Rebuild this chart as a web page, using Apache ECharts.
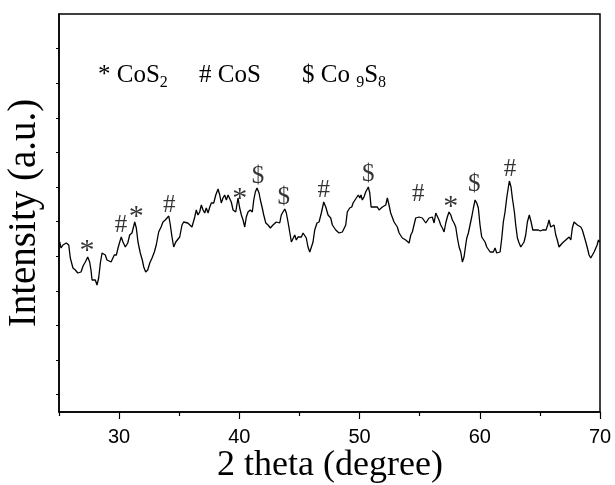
<!DOCTYPE html>
<html><head><meta charset="utf-8">
<script src="https://cdn.jsdelivr.net/npm/echarts@6/dist/echarts.min.js"></script>
<style>html,body{margin:0;padding:0;background:#fff}#c{width:615px;height:485px}</style>
</head><body><div id="c"></div>
<script>
const theta = [25.06,25.17,25.33,25.44,25.61,25.81,25.94,26.16,26.36,26.56,26.72,26.83,27.00,27.19,27.39,27.55,27.66,27.75,27.89,28.02,28.16,28.30,28.44,28.58,28.72,28.85,28.99,29.13,29.33,29.49,29.60,29.77,29.91,30.05,30.18,30.32,30.52,30.72,30.88,31.07,31.30,31.43,31.57,31.76,31.93,32.05,32.21,32.38,32.55,32.74,32.93,33.09,33.29,33.49,33.65,33.84,33.98,34.13,34.26,34.40,34.54,34.71,34.87,35.04,35.23,35.37,35.51,35.71,35.87,36.06,36.29,36.42,36.56,36.70,36.84,36.98,37.12,37.25,37.40,37.54,37.67,37.87,38.04,38.23,38.37,38.50,38.64,38.78,38.92,39.06,39.20,39.33,39.48,39.70,39.89,40.03,40.17,40.31,40.45,40.58,40.72,40.91,41.08,41.20,41.33,41.47,41.64,41.75,41.89,42.03,42.20,42.39,42.58,42.80,42.94,43.08,43.22,43.36,43.49,43.63,43.78,43.91,44.05,44.19,44.33,44.47,44.61,44.74,44.88,45.02,45.16,45.30,45.44,45.57,45.71,45.86,45.99,46.13,46.27,46.46,46.63,46.82,47.02,47.19,47.38,47.52,47.60,47.74,47.88,48.02,48.15,48.29,48.43,48.57,48.71,48.85,48.98,49.18,49.35,49.46,49.62,49.73,49.90,50.02,50.12,50.23,50.37,50.51,50.65,50.73,50.85,50.96,51.06,51.20,51.35,51.48,51.62,51.76,51.90,52.04,52.18,52.31,52.45,52.59,52.73,52.87,53.01,53.14,53.29,53.43,53.56,53.70,53.84,53.98,54.12,54.26,54.39,54.53,54.67,54.81,54.95,55.09,55.22,55.36,55.51,55.64,55.78,55.92,56.05,56.20,56.34,56.47,56.61,56.75,56.89,57.03,57.17,57.30,57.44,57.59,57.72,57.86,58.00,58.14,58.28,58.42,58.55,58.69,58.83,58.92,59.05,59.19,59.33,59.47,59.61,59.75,59.88,60.02,60.16,60.30,60.44,60.58,60.71,60.86,61.00,61.13,61.27,61.41,61.55,61.69,61.83,61.96,62.10,62.24,62.38,62.46,62.60,62.71,62.88,62.99,63.13,63.27,63.41,63.54,63.68,63.82,63.96,64.12,64.27,64.41,64.54,64.68,64.87,65.04,65.21,65.37,65.51,65.65,65.76,65.90,66.04,66.18,66.32,66.45,66.59,66.73,66.87,67.01,67.15,67.29,67.43,67.57,67.70,67.84,67.98,68.12,68.26,68.40,68.53,68.67,68.82,68.95,69.09,69.23,69.36,69.51,69.65,69.76,69.87,69.96];
const intensity = [170,164,167,165,169,167,154,144,142,139,141,140,146,150,155,150,142,132,134,132,127,134,149,159,160,157,152,152,150,149,157,157,164,170,175,170,165,169,177,179,190,184,170,159,152,145,140,142,149,154,160,167,180,185,190,192,191,196,187,175,165,170,172,175,187,190,192,189,190,185,195,202,197,200,207,202,199,204,199,205,209,209,217,223,217,209,214,217,212,217,219,210,202,200,214,204,197,192,185,195,200,202,200,212,220,224,219,212,205,197,189,187,184,187,185,190,192,189,197,200,203,199,190,180,170,172,177,172,175,177,175,179,179,174,165,160,159,170,182,189,190,199,210,205,197,199,194,187,189,182,180,179,177,180,179,187,200,204,205,209,209,214,217,214,217,212,215,220,220,225,219,205,207,205,204,205,202,202,205,204,207,214,207,199,197,190,190,185,179,177,174,172,172,170,169,177,180,187,194,195,195,195,194,195,189,187,194,192,195,189,199,200,192,187,184,180,189,195,200,197,192,189,185,174,165,160,150,155,167,174,179,187,195,204,212,209,204,187,175,174,170,165,167,160,162,160,164,159,159,160,174,190,200,214,225,231,225,214,200,187,174,169,165,167,170,177,190,197,190,182,184,182,182,181,182,184,182,187,192,185,185,187,177,172,165,164,169,170,172,172,175,172,184,190,189,187,185,185,182,180,170,164,157,154,155,160,160,167,172,170];
const xMajorTicks = [30, 40, 50, 60, 70];
const xMinorTicks = [25, 35, 45, 55, 65];
const yTicks = [17.4, 52, 86.6, 121.2, 155.8, 190.4, 225, 259.6, 294.2, 328.8, 363.4];
const markerTheta = [27.33, 30.16, 31.43, 34.18, 40.03, 41.55, 43.69, 47.02, 50.73, 54.89, 57.59, 59.55, 62.52];
const markerInt   = [168, 187, 202, 207, 220, 236, 215, 222, 238, 218, 212, 228, 243];
const markerText  = ['*', '#', '*', '#', '*', '$', '$', '#', '$', '#', '*', '$', '#'];
const xTitle = '2 theta (degree)';
const yTitle = 'Intensity (a.u.)';

const serif = '"Liberation Serif", "Times New Roman", serif';
const sans = '"Liberation Sans", Arial, sans-serif';
const chart = echarts.init(document.getElementById('c'), null, {renderer: 'canvas'});
const lineData = theta.map((t, i) => [t, intensity[i]]);
const markerData = markerTheta.map((t, i) => ({
  value: [t, markerInt[i]],
  name: markerText[i],
  label: markerText[i] === '*' ? {offset: [0, 7], fontSize: 30} : {}
}));
const subStyle = {fontFamily: serif, fontSize: 16, color: '#000', padding: [15, 0, 0, 0]};
chart.setOption({
  animation: false,
  backgroundColor: '#fff',
  grid: {left: 59, right: 15, top: 14, bottom: 73, show: true, borderColor: '#000', borderWidth: 1.5, backgroundColor: 'transparent'},
  xAxis: [
    {type: 'value', min: 25, max: 70, position: 'bottom',
     axisLine: {show: true, onZero: false, lineStyle: {color: '#000', width: 1.5}},
     axisTick: {show: true, customValues: xMajorTicks, length: 7, lineStyle: {color: '#000', width: 1.2}},
     axisLabel: {show: true, customValues: xMajorTicks, color: '#000', fontFamily: sans, fontSize: 20, margin: 15},
     splitLine: {show: false}},
    {type: 'value', min: 25, max: 70, position: 'bottom',
     axisLine: {show: false},
     axisTick: {show: true, customValues: xMinorTicks, length: 4, lineStyle: {color: '#000', width: 1.2}},
     axisLabel: {show: false}, splitLine: {show: false}}
  ],
  yAxis: {type: 'value', min: 0, max: 398,
    axisLine: {show: true, onZero: false, lineStyle: {color: '#000', width: 1.5}},
    axisTick: {show: true, customValues: yTicks, length: 3, lineStyle: {color: '#000', width: 1}},
    axisLabel: {show: false}, splitLine: {show: false}},
  series: [
    {type: 'line', data: lineData, xAxisIndex: 0, showSymbol: false, symbol: 'none', silent: true,
     lineStyle: {color: '#000', width: 1.3}},
    {type: 'scatter', data: markerData, xAxisIndex: 0, symbolSize: 0, silent: true,
     label: {show: true, position: 'inside', formatter: '{b}', color: '#000', fontFamily: serif, fontSize: 25}}
  ],
  graphic: [
    {type: 'text', x: 25, y: 213, rotation: Math.PI / 2,
     style: {text: yTitle, fill: '#000', font: '39px ' + serif, textAlign: 'center', textVerticalAlign: 'middle'}},
    {type: 'text', x: 330, y: 466,
     style: {text: xTitle, fill: '#000', font: '36px ' + serif, textAlign: 'center', textVerticalAlign: 'middle'}},
    {type: 'text', x: 98, y: 75,
     style: {text: '* CoS{sub|2}', fill: '#000', font: '25px ' + serif, textAlign: 'left', textVerticalAlign: 'middle', rich: {sub: subStyle}}},
    {type: 'text', x: 199, y: 75,
     style: {text: '# CoS', fill: '#000', font: '25px ' + serif, textAlign: 'left', textVerticalAlign: 'middle'}},
    {type: 'text', x: 302, y: 75,
     style: {text: '$ Co {sub|9}S{sub|8}', fill: '#000', font: '25px ' + serif, textAlign: 'left', textVerticalAlign: 'middle', rich: {sub: subStyle}}}
  ]
});
</script>
</body></html>
